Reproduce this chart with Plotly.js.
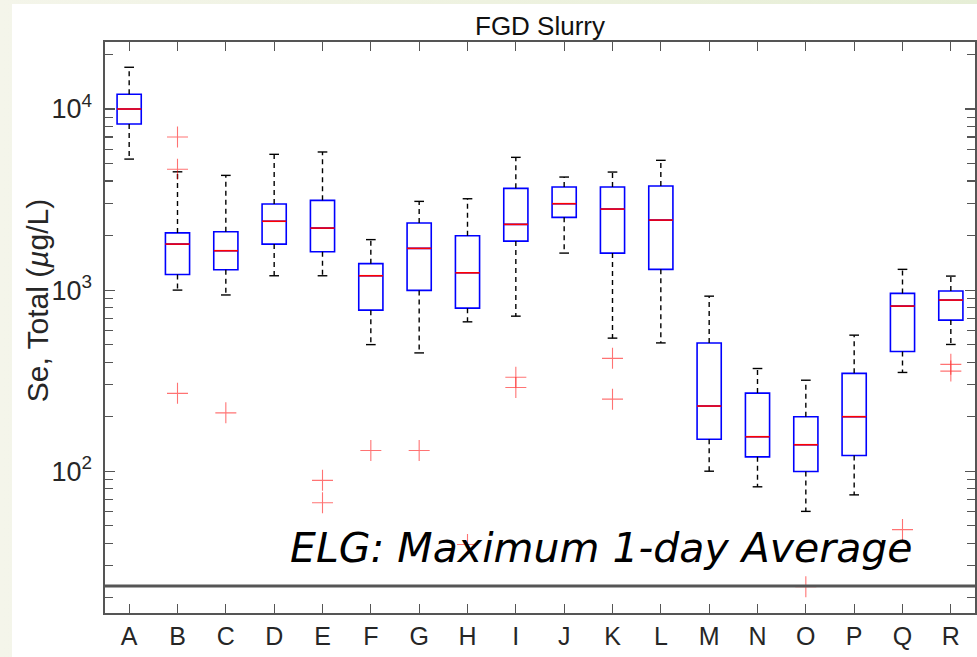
<!DOCTYPE html>
<html>
<head>
<meta charset="utf-8">
<script src="https://cdn.plot.ly/plotly-3.0.1.min.js"></script>
<style>
  html, body { margin:0; padding:0; width:977px; height:657px; overflow:hidden;
    background: linear-gradient(90deg, #f4f5ea 0%, #eef2e0 50%, #e6eed6 100%); }
  #chart { position:absolute; left:12px; top:4px; width:965px; height:653px; background:#fff; }
</style>
</head>
<body>
<div id="chart"></div>
<script>
// ---- data (µg/L) ----
const categories  = ['A','B','C','D','E','F','G','H','I','J','K','L','M','N','O','P','Q','R'];
const whiskerLow  = [5290, 1000,  940, 1200, 1200,  500,  450,  668,  718, 1601,  543,  511, 100,  82,  60,  74,  351,  501];
const q1          = [8260, 1220, 1295, 1795, 1630,  775,  996,  795, 1865, 2522, 1601, 1302, 150, 120, 99.6, 122, 458,  683];
const median      = [10000,1795, 1650, 2400, 2200, 1200, 1700, 1246, 2307, 3000, 2802, 2436, 229, 155, 140, 200,  816,  881];
const q3          = [12060,2070, 2100, 2990, 3130, 1400, 2346, 1995, 3647, 3707, 3707, 3754, 510, 270, 200, 347,  959,  988];
const whiskerHigh = [17000,4500, 4300, 5620, 5790, 1900, 3090, 3195, 5409, 4210, 4486, 5207, 926, 369, 318, 564, 1302, 1195];
const outlierCat  = ['B','B','B','C','E','E','F','G','H','I','I','K','K','O','Q','R','R'];
const outlierVal  = [7000,4650,269,210, 89, 67, 130,130, 39.4,330,290,420,250, 23, 47.6,389,357];
const elgValue    = 23.2;
const elgLabel    = 'ELG: Maximum 1-day Average';
const yTickVals   = [100, 1000, 10000];
const yTickText   = ['10<sup>2</sup>', '10<sup>3</sup>', '10<sup>4</sup>'];

// ---- build traces ----
const pos = categories.map((c, i) => i);
const idx = c => categories.indexOf(c);
const BOX_HALF = 0.25, CAP_HALF = 0.1;

const boxTrace = {
  type: 'box', x: pos, q1: q1, median: median, q3: q3,
  lowerfence: q1, upperfence: q3, width: 2 * BOX_HALF, whiskerwidth: 0,
  boxpoints: false, fillcolor: 'rgba(255,255,255,0)',
  line: { color: '#0000ff', width: 1.6 }, hoverinfo: 'skip', showlegend: false
};

const medX = [], medY = [], whX = [], whY = [], capX = [], capY = [];
pos.forEach((p, i) => {
  medX.push(p - BOX_HALF, p + BOX_HALF, null); medY.push(median[i], median[i], null);
  whX.push(p, p, null, p, p, null);
  whY.push(q3[i], whiskerHigh[i], null, q1[i], whiskerLow[i], null);
  capX.push(p - CAP_HALF, p + CAP_HALF, null, p - CAP_HALF, p + CAP_HALF, null);
  capY.push(whiskerHigh[i], whiskerHigh[i], null, whiskerLow[i], whiskerLow[i], null);
});

const whiskerTrace = { type:'scatter', mode:'lines', x: whX, y: whY,
  line: { color:'#000', width:1.4, dash:'5px,4px' }, hoverinfo:'skip', showlegend:false };
const capTrace = { type:'scatter', mode:'lines', x: capX, y: capY,
  line: { color:'#000', width:1.4 }, hoverinfo:'skip', showlegend:false };
const medianTrace = { type:'scatter', mode:'lines', x: medX, y: medY,
  line: { color:'#ff0000', width:1.6 }, hoverinfo:'skip', showlegend:false };
const outlierTrace = { type:'scatter', mode:'markers',
  x: outlierCat.map(idx), y: outlierVal,
  marker: { symbol:'cross-thin', size:15, line: { color:'rgba(255,0,0,0.55)', width:1.1 } },
  hoverinfo:'skip', showlegend:false };

const axisColor = '#555';
const font = { family: 'Liberation Sans, Arial, sans-serif', color: '#262626' };

const layout = {
  width: 965, height: 653,
  margin: { l: 93, r: 2, t: 38, b: 44 },
  paper_bgcolor: '#ffffff', plot_bgcolor: '#ffffff',
  showlegend: false,
  font: font,
  title: { text: 'FGD Slurry', font: { family: font.family, size: 26, color: '#111' },
           x: 0.5, xref: 'paper', y: 1 - 22/653, yref: 'container', yanchor: 'middle' },
  xaxis: {
    range: [-0.5, 17.5], tickmode: 'array', tickvals: pos, ticktext: categories,
    ticks: 'inside', ticklen: 9, tickwidth: 1.2, tickcolor: axisColor,
    showline: true, linecolor: axisColor, linewidth: 1.6, mirror: 'ticks',
    showgrid: false, zeroline: false,
    tickfont: { family: font.family, size: 25, color: '#262626' }
  },
  yaxis: {
    type: 'log', range: [1.217, 4.370],
    tickmode: 'array', tickvals: yTickVals, ticktext: yTickText,
    ticks: 'inside', ticklen: 10, tickwidth: 1.2, tickcolor: axisColor,
    minor: { ticks: 'inside', ticklen: 8, tickwidth: 1.2, tickcolor: axisColor, dtick: 'D1', showgrid: false },
    showline: true, linecolor: axisColor, linewidth: 1.6, mirror: 'ticks',
    showgrid: false, zeroline: false, ticklabelstandoff: 6,
    tickfont: { family: font.family, size: 27, color: '#262626' }
  },
  shapes: [{
    type: 'line', xref: 'paper', x0: 0, x1: 1, yref: 'y', y0: elgValue, y1: elgValue,
    line: { color: '#555', width: 3 }
  }],
  annotations: [
    { text: 'Se, Total (<i>µ</i>g/L)', xref: 'paper', yref: 'paper', x: -0.078, y: 0.548,
      xanchor: 'center', yanchor: 'middle', textangle: -90, showarrow: false,
      font: { family: font.family, size: 30, color: '#262626' } },
    { text: '<i>' + elgLabel + '</i>', xref: 'paper', yref: 'paper', x: 0.2103, y: 0.114,
      xanchor: 'left', yanchor: 'middle', showarrow: false,
      font: { family: 'DejaVu Sans, sans-serif', size: 41, weight: 200, color: '#000' } }
  ]
};

Plotly.newPlot('chart', [boxTrace, whiskerTrace, capTrace, medianTrace, outlierTrace], layout,
  { displayModeBar: false, staticPlot: true });
</script>
</body>
</html>
